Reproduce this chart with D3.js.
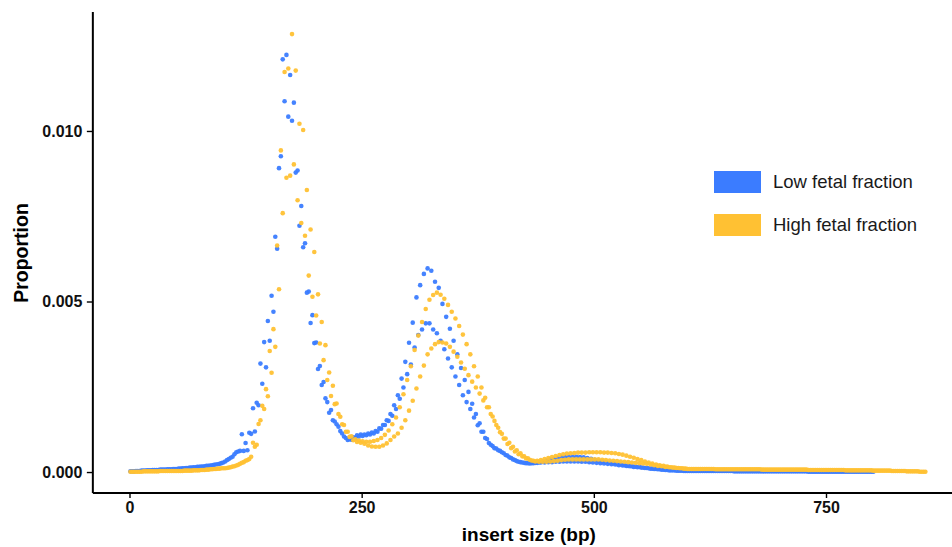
<!DOCTYPE html>
<html>
<head>
<meta charset="utf-8">
<script src="https://cdn.jsdelivr.net/npm/d3@7"></script>
<style>
  html, body { margin: 0; padding: 0; background: #ffffff; }
  svg { display: block; }
  text { font-family: "Liberation Sans", Arial, Helvetica, sans-serif; }
</style>
</head>
<body>
<svg id="chart" width="952" height="547"></svg>
<script>
// ---------------- DATA ----------------
// insert sizes (bp): every 2 bp starting at 1
const sizeStart = 1;
const sizeStep = 2;
// proportions are stored in units of 1e-5
const unit = 1e-5;

const lowFetal = [
  // bp 1-99
  2,2,2,3,3,3,4,4,4,5, 5,5,6,6,6,6,7,7,7,7, 8,8,8,9,9,9,10,10,11,11, 12,12,13,13,14,14,15,15,16,16, 17,18,18,19,20,21,22,23,24,26,
  // bp 101-139
  28,31,35,38,42,45,52,58,60,62, 111,62,85,64,115,112,187,119,203,196,
  // bp 141-221
  318,259,381,307,443,385,517,470,690,655, 891,926,1210,1087,1223,1042,1164,1030,1083,878,
  884,722,780,659,671,526,529,437,460,378, 380,302,311,255,264,216,205,174,182,152, 148,
  // bp 223-323
  140,133,120,113,104,100,94,96,95,102, 100,108,104,110,106,110,108,113,110,116,
  113,120,118,128,127,138,138,152,150,170, 165,196,185,225,215,274,248,323,287,379,
  315,438,365,512,402,548,418,581,436,597, 436,
  // bp 325-443
  590,418,558,407,540,385,493,360,455,333, 420,307,385,280,345,255,305,225,270,205,
  235,185,200,160,170,137,143,118,118,100, 97,85,80,76,70,69,64,62,58,55,
  50,48,43,41,37,35,32,30,29,28, 27,26,26,25,26,26,27,27,28,28,
  // bp 445-599
  31,28,34,29,37,29,39,30,41,30, 43,31,44,31,45,31,45,31,45,31,
  44,30,43,30,41,29,39,28,36,27, 34,26,31,25,29,24,27,23,25,22,
  23,20,22,19,20,18,18,17,17,15, 16,14,15,13,13,12,12,11,10,10,
  9,9,8,8,7,7,6,6,5,5, 5,5,4,4,4,4,3,3,
  // bp 601-801
  3,3,3,3,3,3,3,3,3,3, 3,3,3,3,3,3,3,3,3,3, 3,3,3,3,3,
  2,2,2,2,2,2,2,2,2,2, 2,2,2,2,2,2,2,2,2,2, 2,2,2,2,2,2,2,2,2,2, 2,2,2,2,2,2,2,2,2,2,
  1,1,1,1,1,1,1,1,1,1, 1,1,1,1,1,1,1,1,1,1, 1,1,1,1,1,1,1,1,1,1, 1,1,1,1,1,1
];

const highFetal = [
  // bp 1-99
  1,1,1,1,1,1,1,2,2,2, 2,2,2,2,2,2,3,3,3,3, 3,3,3,3,3,3,3,3,3,4, 4,4,4,4,5,5,5,5,6,6, 6,7,7,8,8,9,9,10,10,11,
  // bp 101-137
  11,11,12,13,14,16,17,19,21,24, 27,29,33,35,38,45,86,74,80,
  // bp 139-221
  141,152,194,185,243,222,355,291,419,367, 664,536,943,759,1173,863,1183,869,1284,902,
  1177,797,1021,730,1003,693,827,576,711,514, 645,459,521,377,440,328,372,270,292,223, 253,199,
  // bp 223-443
  201,170,162,140,138,118,118,103,105,93, 96,88,92,86,90,83,89,78,89,75,
  91,74,94,74,100,78,109,84,122,94, 140,104,160,113,190,130,228,152,270,180,
  310,209,358,245,400,280,440,312,478,345, 505,362,519,375,526,381,520,380,508,377,
  490,367,470,353,450,338,428,321,403,303, 375,284,345,265,310,248,280,230,248,210,
  218,190,190,170,163,150,138,130,117,112, 98,98,82,86,70,74,60,64,52,55,
  46,46,40,40,36,34,33,31,33,30, 35,
  // bp 445-599
  30,38,30,41,31,44,32,47,33,50, 35,52,36,54,37,55,37,56,37,57,
  37,57,37,57,37,58,37,58,37,58, 37,58,36,57,35,57,34,56,33,55,
  32,53,31,51,30,48,29,45,28,42, 27,38,26,35,25,31,24,28,22,25,
  20,22,18,20,17,18,15,16,14,14, 13,13,12,12,11,11,10,10,
  // bp 601-857
  9,9,9,9,9,9,9,9,9,9, 9,9,9,9,9,
  8,8,8,8,8,8,8,8,8,8, 8,8,8,8,8,8,8,8,8,8, 8,8,8,8,8,
  7,7,7,7,7,7,7,7,7,7, 7,7,7,7,7,7,7,7,7,7, 7,7,7,7,7,
  6,6,6,6,6,6,6,6,6,6, 6,6,6,6,6,6,6,6,6,6,
  5,5,5,5,5,5,5,5,5,5, 5,5,5,5,5,
  4,4,4,4,4,4,4,4,4,4,
  3,3,3,3,3,3,3,3,
  2,2,2,2,2,2,2,
  1,1,1,1
];

const seriesNames = ["Low fetal fraction", "High fetal fraction"];
const seriesColors = ["#3b7cff", "#ffc133"];
const xTicks = [0, 250, 500, 750];
const yTicks = [0, 0.005, 0.010];
const xTitle = "insert size (bp)";
const yTitle = "Proportion";

// ---------------- CHART ----------------
const svg = d3.select("#chart");

const x = d3.scaleLinear().domain([-40, 900]).range([92.35, 965.3]);
const y = d3.scaleLinear().domain([-0.0006, 0.0135]).range([492.5, 11.6]);

function toPoints(values) {
  return values.map((v, i) => ({ size: sizeStart + i * sizeStep, prop: v * unit }));
}
const series = [toPoints(lowFetal), toPoints(highFetal)];

// points: low first, high on top
series.forEach((pts, si) => {
  svg.append("g")
    .selectAll("circle")
    .data(pts)
    .join("circle")
    .attr("cx", d => x(d.size))
    .attr("cy", d => y(d.prop))
    .attr("r", 2.3)
    .attr("fill", seriesColors[si])
    .attr("fill-opacity", 0.95);
});

// y axis
const yAxis = svg.append("g")
  .attr("transform", `translate(${x(-40)},0)`)
  .call(d3.axisLeft(y).tickValues(yTicks).tickFormat(d3.format(".3f")).tickSize(5.5).tickSizeOuter(0).tickPadding(4.5));
yAxis.select(".domain").attr("stroke", "#000").attr("stroke-width", 2);
yAxis.selectAll(".tick line").attr("stroke", "#000").attr("stroke-width", 1.4);
yAxis.selectAll(".tick text")
  .attr("fill", "#111").attr("font-size", 16).attr("font-weight", "bold")
  .style("font-family", "'Liberation Sans', Arial, sans-serif");

// x axis
const xAxis = svg.append("g")
  .attr("transform", `translate(0,${y(-0.0006)})`)
  .call(d3.axisBottom(x).tickValues(xTicks).tickFormat(d3.format("d")).tickSize(5.5).tickSizeOuter(0).tickPadding(4));
xAxis.select(".domain").attr("stroke", "#000").attr("stroke-width", 2);
xAxis.selectAll(".tick line").attr("stroke", "#000").attr("stroke-width", 1.4);
xAxis.selectAll(".tick text")
  .attr("fill", "#111").attr("font-size", 16).attr("font-weight", "bold")
  .style("font-family", "'Liberation Sans', Arial, sans-serif");

// axis titles
svg.append("text")
  .attr("x", 528.8).attr("y", 541)
  .attr("text-anchor", "middle")
  .attr("font-size", 19).attr("font-weight", "bold").attr("fill", "#000")
  .text(xTitle);

svg.append("text")
  .attr("transform", "translate(28,253) rotate(-90)")
  .attr("text-anchor", "middle")
  .attr("font-size", 19.5).attr("font-weight", "bold").attr("fill", "#000")
  .text(yTitle);

// legend
const legend = svg.append("g");
const legendY = [171, 214];
seriesNames.forEach((name, i) => {
  legend.append("rect")
    .attr("x", 714).attr("y", legendY[i])
    .attr("width", 47).attr("height", 22)
    .attr("fill", seriesColors[i]);
  legend.append("text")
    .attr("x", 773).attr("y", legendY[i] + 17)
    .attr("font-size", 18.5).attr("fill", "#1a1a1a")
    .text(name);
});
</script>
</body>
</html>
